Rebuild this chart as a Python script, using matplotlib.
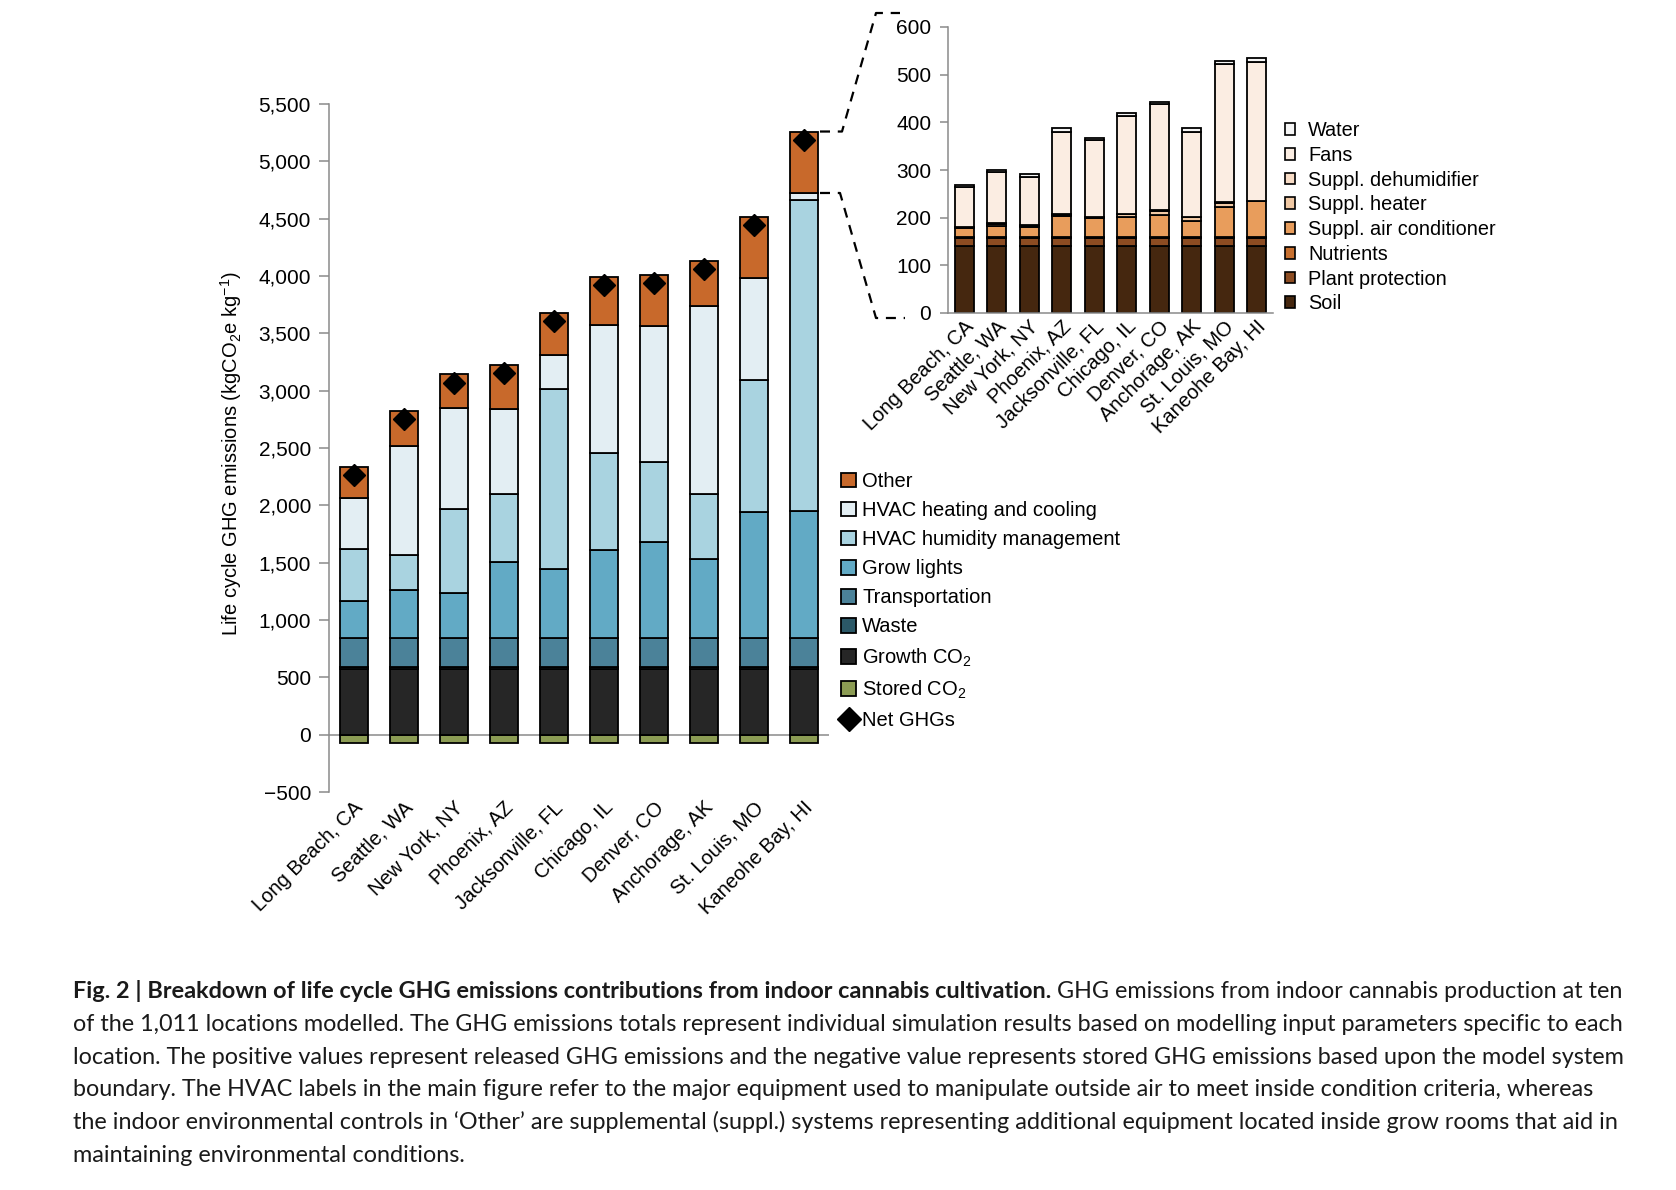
import numpy as np
import matplotlib
matplotlib.use("Agg")
import matplotlib.pyplot as plt
from matplotlib.patches import Patch
from matplotlib.lines import Line2D
from matplotlib.ticker import FuncFormatter
from matplotlib.transforms import offset_copy

plt.rcParams['font.family'] = ['Liberation Sans', 'DejaVu Sans']
plt.rcParams['mathtext.fontset'] = 'custom'
plt.rcParams['mathtext.rm'] = 'Liberation Sans'
plt.rcParams['mathtext.it'] = 'Liberation Sans:italic'
plt.rcParams['mathtext.bf'] = 'Liberation Sans:bold'

# ---------------- data ----------------
locations = ["Long Beach, CA", "Seattle, WA", "New York, NY", "Phoenix, AZ",
             "Jacksonville, FL", "Chicago, IL", "Denver, CO", "Anchorage, AK",
             "St. Louis, MO", "Kaneohe Bay, HI"]

# main chart components (kgCO2e per kg)
stored_co2 = [-70, -70, -70, -70, -70, -70, -70, -70, -70, -70]
growth_co2 = [577, 577, 577, 577, 577, 577, 577, 577, 577, 577]
waste = [12, 12, 12, 12, 12, 12, 12, 12, 12, 12]
transportation = [256, 256, 256, 256, 256, 256, 256, 256, 256, 256]
grow_lights = [320, 416, 387, 661, 600, 763, 835, 688, 1100, 1104]
hvac_humidity = [455, 306, 737, 594, 1570, 852, 694, 566, 1148, 2716]
hvac_heating = [448, 953, 881, 740, 296, 1112, 1191, 1642, 892, 59]

# 'Other' breakdown (inset)
soil = [140, 140, 140, 140, 140, 140, 140, 140, 140, 140]
plant_protection = [18, 18, 18, 18, 18, 18, 18, 18, 18, 18]
nutrients = [2, 2, 2, 2, 2, 2, 2, 2, 2, 2]
suppl_ac = [18, 23, 21, 44, 39, 41, 46, 32, 63, 75]
suppl_heater = [2, 4, 2, 2, 2, 6, 9, 9, 8, 0]
suppl_dehumidifier = [1, 2, 1, 1, 1, 1, 2, 1, 1, 1]
fans = [84, 107, 102, 173, 161, 205, 221, 178, 290, 291]
water = [4, 5, 5, 8, 5, 6, 5, 8, 7, 9]

main_ticks = [-500, 0, 500, 1000, 1500, 2000, 2500, 3000, 3500, 4000, 4500, 5000, 5500]
inset_ticks = [0, 100, 200, 300, 400, 500, 600]

# ---------------- styles ----------------
C_MAIN = {
    'Other': '#c8692b',
    'HVAC heating and cooling': '#e3eef3',
    'HVAC humidity management': '#a9d3e0',
    'Grow lights': '#62aac5',
    'Transportation': '#4b8299',
    'Waste': '#2b5867',
    'Growth CO$_2$': '#262626',
    'Stored CO$_2$': '#8c9c54',
}
C_IN = {
    'Water': '#f6f6f6',
    'Fans': '#fbede2',
    'Suppl. dehumidifier': '#f8dcc6',
    'Suppl. heater': '#f1c9a4',
    'Suppl. air conditioner': '#e89d5c',
    'Nutrients': '#c8702f',
    'Plant protection': '#8c4c22',
    'Soil': '#45270f',
}
GRAY = '#8a8a8a'
EDGE_LW = 1.3

W, H = 1676, 1190
fig = plt.figure(figsize=(W / 100, H / 100), dpi=100)


def fx(px):
    return px / W


def fy(py):
    return 1 - py / H


# ---------------- main axes ----------------
ax = fig.add_axes([fx(329), fy(792), fx(500), (792 - 104) / H])
x = np.arange(len(locations))

other = (np.array(soil) + np.array(plant_protection) + np.array(nutrients) +
         np.array(suppl_ac) + np.array(suppl_heater) + np.array(suppl_dehumidifier) +
         np.array(fans) + np.array(water))

stack = [
    ('Growth CO$_2$', growth_co2),
    ('Waste', waste),
    ('Transportation', transportation),
    ('Grow lights', grow_lights),
    ('HVAC humidity management', hvac_humidity),
    ('HVAC heating and cooling', hvac_heating),
    ('Other', other),
]
bw = 0.56
ax.bar(x, stored_co2, width=bw, color=C_MAIN['Stored CO$_2$'], edgecolor='black',
       linewidth=EDGE_LW, zorder=2)
bottom = np.zeros(len(x))
for name, vals in stack:
    vals = np.asarray(vals, dtype=float)
    ax.bar(x, vals, bottom=bottom, width=bw, color=C_MAIN[name], edgecolor='black',
           linewidth=EDGE_LW, zorder=2)
    bottom += vals
net = bottom + np.array(stored_co2)
ax.plot(x, net, linestyle='none', marker='D', color='black', markersize=11, zorder=4)

ax.axhline(0, color=GRAY, linewidth=1.1, zorder=1)
ax.set_xlim(-0.5, 9.5)
ax.set_ylim(-500, 5500)
ax.set_yticks(main_ticks)
ax.yaxis.set_major_formatter(FuncFormatter(lambda v, p: f"{v:,.0f}".replace('-', '\u2212')))
ax.tick_params(axis='y', direction='out', length=7, width=1.1, color=GRAY, pad=6,
               labelsize=15)
ax.set_xticks([])
for s in ['top', 'right', 'bottom']:
    ax.spines[s].set_visible(False)
ax.spines['left'].set_color(GRAY)
ax.spines['left'].set_linewidth(1.1)

tr_main = offset_copy(ax.get_xaxis_transform(), fig=fig, x=13, y=-6, units='dots')
for i, name in enumerate(locations):
    ax.text(i, 0, name, transform=tr_main, rotation=45, ha='right', va='top',
            fontsize=14.5)

fig.text(fx(231), fy(454), 'Life cycle GHG emissions (kgCO$_2$e kg$^{-1}$)',
         rotation=90, ha='center', va='center', fontsize=14.5)

main_labels = ['Other', 'HVAC heating and cooling', 'HVAC humidity management',
               'Grow lights', 'Transportation', 'Waste', 'Growth CO$_2$', 'Stored CO$_2$']
main_handles = [Patch(facecolor=C_MAIN[k], edgecolor='black', linewidth=EDGE_LW)
                for k in main_labels]
main_handles.append(Line2D([], [], linestyle='none', marker='D', color='black',
                           markersize=12))
main_labels = main_labels + ['Net GHGs']
fig.legend(main_handles, main_labels, loc='upper left',
           bbox_to_anchor=(fx(841), fy(472)), bbox_transform=fig.transFigure,
           frameon=False, fontsize=14.5, handlelength=0.75, handleheight=0.75,
           handletextpad=0.3, labelspacing=0.5, borderpad=0, borderaxespad=0)

# ---------------- inset axes ----------------
ax2 = fig.add_axes([fx(948), fy(313), fx(325), (313 - 27) / H])
in_stack = [
    ('Soil', soil), ('Plant protection', plant_protection), ('Nutrients', nutrients),
    ('Suppl. air conditioner', suppl_ac), ('Suppl. heater', suppl_heater),
    ('Suppl. dehumidifier', suppl_dehumidifier), ('Fans', fans), ('Water', water),
]
bottom2 = np.zeros(len(x))
for name, vals in in_stack:
    vals = np.asarray(vals, dtype=float)
    ax2.bar(x, vals, bottom=bottom2, width=0.58, color=C_IN[name], edgecolor='black',
            linewidth=EDGE_LW, zorder=2)
    bottom2 += vals
ax2.set_xlim(-0.5, 9.5)
ax2.set_ylim(0, 600)
ax2.set_yticks(inset_ticks)
ax2.tick_params(axis='y', direction='out', length=6, width=1.1, color=GRAY, pad=6,
                labelsize=15)
ax2.set_xticks([])
for s in ['top', 'right']:
    ax2.spines[s].set_visible(False)
for s in ['left', 'bottom']:
    ax2.spines[s].set_color(GRAY)
    ax2.spines[s].set_linewidth(1.1)

tr_in = offset_copy(ax2.get_xaxis_transform(), fig=fig, x=13, y=-4, units='dots')
for i, name in enumerate(locations):
    ax2.text(i, 0, name, transform=tr_in, rotation=45, ha='right', va='top',
             fontsize=14.5)

in_order = ['Water', 'Fans', 'Suppl. dehumidifier', 'Suppl. heater',
            'Suppl. air conditioner', 'Nutrients', 'Plant protection', 'Soil']
in_handles = [Patch(facecolor=C_IN[k], edgecolor='black', linewidth=1.2) for k in in_order]
fig.legend(in_handles, in_order, loc='upper left',
           bbox_to_anchor=(fx(1285), fy(121)), bbox_transform=fig.transFigure,
           frameon=False, fontsize=14.3, handlelength=0.52, handleheight=0.52,
           handletextpad=0.65, labelspacing=0.29, borderpad=0, borderaxespad=0)

# ---------------- dashed connectors ----------------
fig.canvas.draw()


def to_px(axis, xy):
    d = axis.transData.transform(xy)
    return d[0], H - d[1]


top10 = bottom[-1]
heat10 = bottom[-1] - other[-1]
x_right = len(x) - 1 + bw / 2
sx, sy = to_px(ax, (x_right, top10))
lx, ly = to_px(ax, (x_right, heat10))
upper = [(sx + 2, sy), (842, sy), (876, 13), (900, 13)]
lower = [(lx + 2, ly), (840, ly), (876, 318), (905, 318)]
for pts in (upper, lower):
    xs = [fx(p[0]) for p in pts]
    ys = [fy(p[1]) for p in pts]
    fig.add_artist(Line2D(xs, ys, transform=fig.transFigure, color='black',
                          linewidth=1.6, linestyle=(0, (4.5, 3.5))))

# ---------------- caption ----------------
CAP_FONT = 'Lato'
bold_part = ("Fig. 2 | Breakdown of life cycle GHG emissions contributions from "
             "indoor cannabis cultivation.")
first_rest = " GHG emissions from indoor cannabis production at ten"
cap_lines = [
    "of the 1,011 locations modelled. The GHG emissions totals represent individual "
    "simulation results based on modelling input parameters specific to each",
    "location. The positive values represent released GHG emissions and the negative "
    "value represents stored GHG emissions based upon the model system",
    "boundary. The HVAC labels in the main figure refer to the major equipment used to "
    "manipulate outside air to meet inside condition criteria, whereas",
    "the indoor environmental controls in \u2018Other\u2019 are supplemental (suppl.) "
    "systems representing additional equipment located inside grow rooms that aid in",
    "maintaining environmental conditions.",
]
renderer = fig.canvas.get_renderer()


def width_of(s, size, weight):
    t = fig.text(0, 0, s, fontsize=size, fontweight=weight, family=CAP_FONT)
    w = t.get_window_extent(renderer).width
    t.remove()
    return w


def fit_size(s, target, weight):
    size = 10 * target / width_of(s, 10, weight)
    for _ in range(3):
        size *= target / width_of(s, size, weight)
    return size


x0 = 73
bold_size = fit_size(bold_part, 1054 - x0, 'bold')
reg_size = fit_size(cap_lines[1], 1622 - x0, 'normal')
base0 = 998
step = 32.8
tb = fig.text(fx(x0), fy(base0), bold_part, fontsize=bold_size, fontweight='bold',
              family=CAP_FONT, va='baseline', ha='left', color='#1a1a1a')
wb = tb.get_window_extent(renderer).width
fig.text(fx(x0 + wb), fy(base0), first_rest, fontsize=reg_size, family=CAP_FONT,
         va='baseline', ha='left', color='#1a1a1a')
for k, line in enumerate(cap_lines):
    fig.text(fx(x0), fy(base0 + step * (k + 1)), line, fontsize=reg_size,
             family=CAP_FONT, va='baseline', ha='left', color='#1a1a1a')

fig.savefig('out.png', dpi=100)
